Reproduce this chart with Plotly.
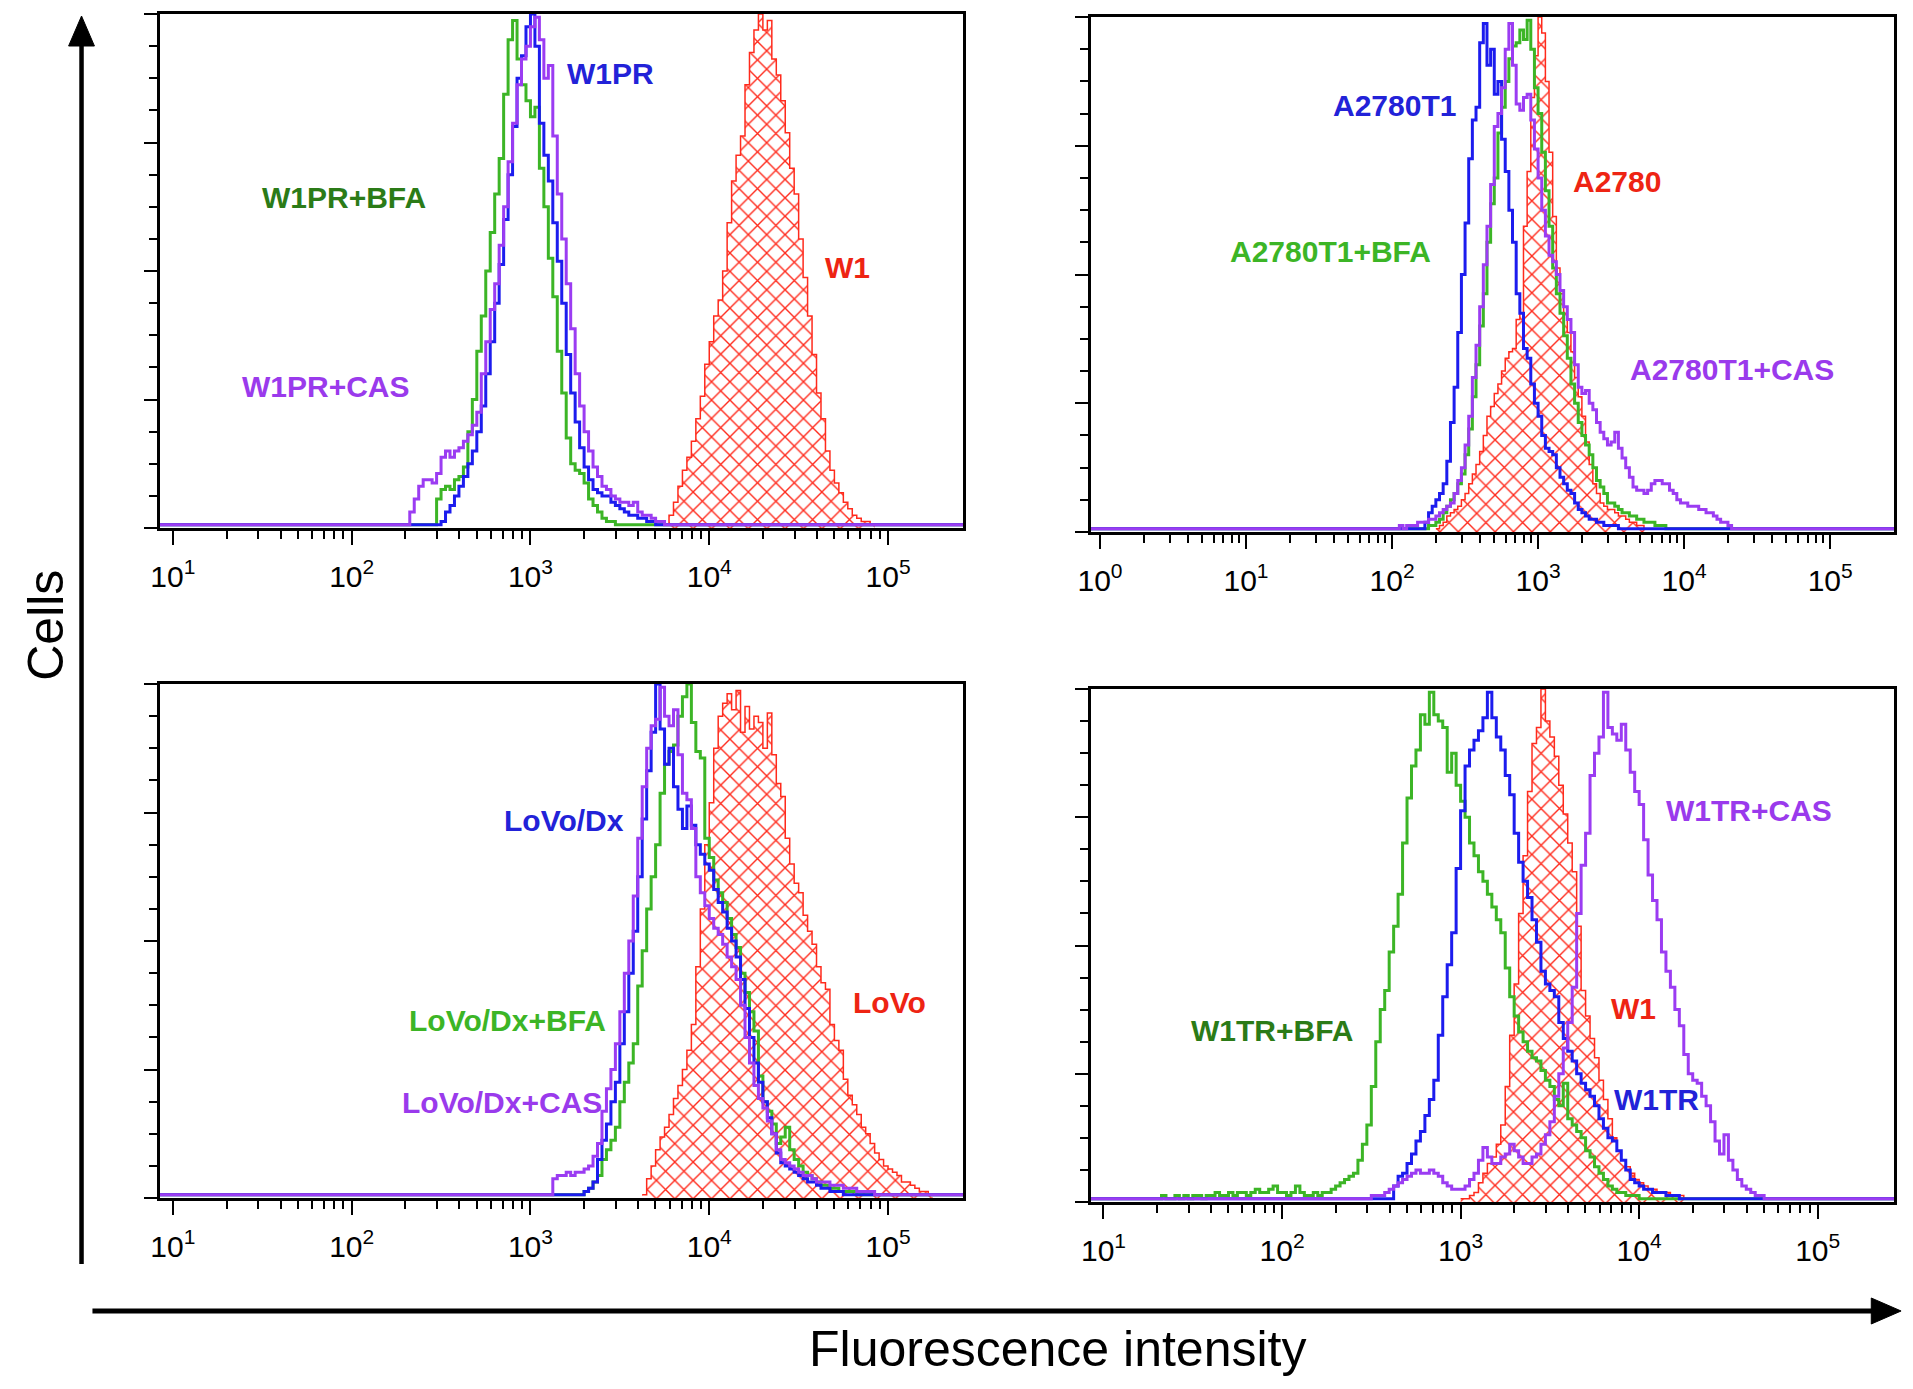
import plotly.graph_objects as go

W, H = 1913, 1389
STEP = 0.025   # width of one histogram channel, in decades
BASE = 1       # level drawn for empty channels

# ---------- top left: W1 / W1PR ----------
tl_red_start = 3.75
tl_red = [1, 4, 8, 13, 18, 22, 27, 34, 41, 51, 58, 66, 71, 80, 95, 108, 116, 122, 138, 148,
          155, 160, 155, 158, 146, 141, 133, 123, 112, 104, 90, 78, 66, 54, 42, 34, 24, 18, 14, 11,
          8, 6, 4, 3, 2, 2, 1]
tl_green_start = 2.45
tl_green = [1, 9, 12, 13, 12, 15, 16, 19, 30, 40, 55, 66, 80, 92, 104, 115, 135, 152, 158, 146,
            138, 133, 128, 131, 112, 100, 84, 72, 55, 42, 28, 20, 18, 17, 14, 9, 7, 5, 3, 2,
            2, 1, 1]
tl_blue_start = 2.50
tl_blue = [2, 5, 7, 10, 13, 16, 20, 24, 30, 38, 48, 58, 70, 82, 96, 110, 125, 140, 147, 156,
           160, 150, 126, 116, 108, 95, 83, 70, 54, 42, 33, 25, 19, 15, 12, 11, 10, 10, 8, 7,
           6, 5, 4, 4, 3, 3, 2, 2, 1]
tl_purple_start = 2.30
tl_purple = [1, 5, 9, 13, 15, 15, 14, 17, 22, 24, 22, 24, 25, 27, 29, 32, 36, 48, 58, 68,
             76, 88, 100, 114, 126, 138, 146, 150, 156, 159, 152, 140, 144, 122, 104, 90, 76, 62, 48, 38,
             30, 24, 19, 16, 13, 12, 10, 9, 8, 8, 7, 8, 5, 4, 4, 3, 2, 2, 1]

# ---------- top right: A2780 / A2780T1 ----------
tr_red_start = 2.30
tr_red = [1, 2, 3, 5, 6, 7, 8, 10, 12, 15, 18, 21, 25, 30, 36, 39, 43, 46, 50, 54,
          56, 57, 66, 68, 95, 112, 135, 148, 160, 155, 140, 118, 98, 82, 74, 68, 62, 56, 48, 42,
          36, 28, 21, 15, 12, 9, 8, 7, 7, 6, 5, 5, 4, 3, 3, 2, 2, 1]
tr_green_start = 2.20
tr_green = [1, 1, 2, 2, 3, 4, 6, 8, 10, 12, 15, 18, 24, 32, 42, 52, 64, 74, 90, 102,
            110, 124, 132, 140, 147, 151, 152, 156, 153, 159, 150, 138, 130, 118, 106, 95, 82, 74, 68, 61,
            54, 46, 40, 34, 30, 27, 24, 20, 16, 14, 12, 9, 9, 8, 7, 6, 6, 5, 5, 4,
            4, 3, 3, 3, 2, 2, 2, 1, 1, 1, 1]
tr_blue_start = 2.20
tr_blue = [1, 3, 6, 8, 10, 12, 15, 22, 34, 45, 62, 80, 96, 116, 128, 132, 152, 158, 145, 150,
           136, 140, 122, 112, 100, 90, 74, 68, 57, 54, 46, 40, 36, 30, 26, 25, 24, 20, 17, 15,
           13, 12, 9, 7, 6, 5, 4, 4, 3, 3, 2, 2, 2, 2, 1, 1, 1]
tr_purple_start = 2.00
tr_purple = [1, 1, 2, 1, 2, 2, 2, 3, 3, 3, 4, 4, 5, 6, 7, 8, 9, 12, 16, 20,
             27, 36, 48, 58, 70, 83, 95, 108, 126, 130, 138, 150, 158, 145, 133, 131, 135, 136, 128, 119,
             110, 100, 92, 86, 84, 80, 75, 70, 66, 62, 52, 45, 43, 44, 40, 38, 34, 31, 29, 27,
             28, 31, 26, 23, 20, 17, 14, 13, 13, 12, 13, 15, 16, 16, 15, 15, 13, 12, 10, 9,
             9, 8, 8, 8, 7, 7, 6, 6, 5, 4, 3, 3, 2, 1]

# ---------- bottom left: LoVo / LoVo/Dx ----------
bl_red_start = 3.625
bl_red = [1, 6, 10, 15, 19, 22, 26, 31, 35, 40, 46, 54, 72, 90, 110, 123, 140, 150, 154, 157,
          152, 158, 145, 153, 146, 150, 148, 140, 151, 138, 129, 125, 112, 104, 98, 95, 88, 83, 79, 72,
          67, 65, 54, 49, 46, 37, 32, 29, 26, 22, 20, 17, 14, 12, 10, 9, 8, 7, 5, 5,
          4, 3, 2, 2, 1]
bl_green_start = 3.275
bl_green = [1, 2, 3, 5, 7, 12, 15, 18, 22, 30, 36, 42, 48, 66, 77, 90, 100, 110, 126, 135,
            139, 141, 150, 156, 160, 148, 139, 137, 112, 106, 99, 95, 92, 87, 82, 78, 70, 64, 58, 52,
            38, 30, 27, 23, 17, 19, 22, 15, 12, 10, 8, 7, 6, 5, 4, 4, 3, 3, 2, 2,
            2, 2, 1, 1, 1, 1, 1]
bl_blue_start = 3.275
bl_blue = [1, 2, 3, 5, 12, 18, 23, 30, 36, 48, 58, 70, 83, 100, 118, 133, 145, 160, 146, 135,
           140, 128, 121, 115, 122, 116, 110, 107, 104, 102, 96, 92, 89, 84, 80, 75, 68, 59, 50, 42,
           36, 30, 25, 20, 14, 11, 10, 9, 8, 7, 6, 5, 5, 4, 3, 3, 2, 2, 2, 1,
           1, 1]
bl_purple_start = 3.10
bl_purple = [1, 6, 7, 7, 8, 7, 8, 8, 9, 10, 13, 17, 27, 34, 40, 48, 58, 70, 80, 94,
             112, 128, 140, 147, 149, 159, 150, 147, 152, 138, 126, 124, 115, 100, 95, 91, 87, 84, 82, 79,
             75, 72, 68, 60, 50, 42, 35, 31, 28, 24, 20, 15, 12, 11, 10, 9, 8, 7, 7, 6,
             5, 5, 5, 4, 4, 4, 3, 3, 3, 2, 2, 2, 2, 1, 1, 1, 1]

# ---------- bottom right: W1 / W1TR ----------
br_red_start = 3.00
br_red = [1, 1, 2, 3, 6, 9, 12, 14, 18, 24, 36, 52, 68, 90, 108, 128, 143, 148, 160, 150,
          145, 139, 130, 121, 112, 103, 86, 66, 58, 51, 45, 38, 32, 26, 20, 16, 13, 11, 9, 7,
          6, 5, 4, 4, 3, 3, 3, 2, 2, 2, 1]
br_green_start = 1.30
br_green = [1, 2, 1, 1, 2, 1, 2, 1, 2, 2, 1, 2, 2, 3, 2, 2, 3, 2, 3, 3,
            2, 3, 4, 3, 3, 4, 5, 3, 3, 2, 3, 5, 3, 2, 2, 3, 2, 3, 3, 4,
            5, 6, 7, 8, 9, 13, 18, 24, 36, 50, 60, 66, 78, 86, 96, 112, 126, 136, 141, 152,
            149, 159, 152, 150, 148, 134, 140, 130, 125, 120, 112, 108, 103, 100, 96, 92, 88, 84, 73, 64,
            58, 53, 50, 47, 45, 44, 41, 38, 36, 32, 30, 37, 26, 24, 22, 20, 16, 14, 11, 9,
            7, 5, 4, 3, 3, 2, 2, 2, 1, 1, 1]
br_blue_start = 2.60
br_blue = [1, 5, 8, 9, 12, 15, 19, 22, 27, 32, 38, 52, 64, 74, 84, 104, 122, 136, 141, 144,
           147, 151, 159, 151, 145, 141, 133, 127, 115, 106, 100, 95, 88, 81, 72, 68, 66, 64, 56, 51,
           47, 44, 40, 37, 35, 33, 30, 26, 23, 20, 19, 16, 13, 10, 7, 6, 5, 4, 4, 3,
           3, 3, 2, 2, 2, 1, 1]
br_purple_start = 2.425
br_purple = [1, 1, 1, 2, 2, 2, 3, 4, 5, 6, 7, 8, 9, 10, 9, 9, 10, 9, 8, 6,
             5, 4, 4, 4, 5, 7, 9, 13, 17, 14, 12, 12, 14, 15, 18, 16, 14, 12, 12, 14,
             15, 18, 21, 25, 33, 40, 48, 56, 67, 90, 105, 115, 133, 140, 145, 159, 148, 146, 144, 149,
             141, 134, 128, 124, 113, 102, 94, 88, 78, 72, 67, 60, 55, 46, 40, 38, 37, 33, 30, 25,
             19, 15, 21, 13, 10, 7, 5, 4, 3, 2, 2, 1]

# colours
RED = "#ff2a1c"
GREEN = "#3cb526"
BLUE = "#1c1cee"
PURPLE = "#9b3cf2"
DKGREEN = "#2b7b17"
LBLUE = "#2222d8"
LRED = "#ee2413"
LPURPLE = "#9a3aec"

TICKFONT = "Liberation Sans Narrow, Arial Narrow, Arial"


def px(x, y):
    return x / W, 1 - y / H


# panel boxes in pixels (left, right, top, bottom), axis range in decades
panels = [
    dict(box=(148, 957, 14, 528), xr=(0.928, 5.422), decades=[1, 2, 3, 4, 5],
         curves=[(tl_red_start, tl_red, RED), (tl_green_start, tl_green, GREEN),
                 (tl_blue_start, tl_blue, BLUE), (tl_purple_start, tl_purple, PURPLE)],
         labels=[("W1PR", 602, 73, LBLUE), ("W1PR+BFA", 333, 198, DKGREEN),
                 ("W1", 840, 267, LRED), ("W1PR+CAS", 315, 387, LPURPLE)]),
    dict(box=(1085, 1894, 17, 532), xr=(-0.064, 5.438), decades=[0, 1, 2, 3, 4, 5],
         curves=[(tr_red_start, tr_red, RED), (tr_green_start, tr_green, GREEN),
                 (tr_blue_start, tr_blue, BLUE), (tr_purple_start, tr_purple, PURPLE)],
         labels=[("A2780T1", 1391, 106, LBLUE), ("A2780", 1615, 181, LRED),
                 ("A2780T1+BFA", 1327, 251, GREEN), ("A2780T1+CAS", 1731, 370, LPURPLE)]),
    dict(box=(148, 957, 684, 1198), xr=(0.928, 5.422), decades=[1, 2, 3, 4, 5],
         curves=[(bl_red_start, bl_red, RED), (bl_green_start, bl_green, GREEN),
                 (bl_blue_start, bl_blue, BLUE), (bl_purple_start, bl_purple, PURPLE)],
         labels=[("LoVo/Dx", 555, 820, LBLUE), ("LoVo", 883, 1002, LRED),
                 ("LoVo/Dx+BFA", 498, 1020, GREEN), ("LoVo/Dx+CAS", 492, 1102, LPURPLE)]),
    dict(box=(1085, 1894, 689, 1202), xr=(0.928, 5.428), decades=[1, 2, 3, 4, 5],
         curves=[(br_red_start, br_red, RED), (br_green_start, br_green, GREEN),
                 (br_blue_start, br_blue, BLUE), (br_purple_start, br_purple, PURPLE)],
         labels=[("W1TR+CAS", 1748, 811, LPURPLE), ("W1TR+BFA", 1268, 1030, DKGREEN),
                 ("W1", 1632, 1008, LRED), ("W1TR", 1655, 1099, LBLUE)]),
]

fig = go.Figure()
annotations = []

for n, p in enumerate(panels, start=1):
    sfx = "" if n == 1 else str(n)
    left, right, top, bottom = p["box"]
    lo, hi = p["xr"]

    for start, counts, color in p["curves"]:
        xs = [10 ** (start + i * STEP) for i in range(len(counts) + 1)]
        ys = list(counts) + [counts[-1]]
        if color == RED:
            fig.add_trace(go.Scatter(
                x=xs, y=ys, mode="lines", line=dict(color=color, width=1.5, shape="hv"),
                fill="tozeroy",
                fillpattern=dict(shape="x", fgcolor=color, bgcolor="white", size=13,
                                 solidity=0.2, fillmode="replace"),
                xaxis="x" + sfx, yaxis="y" + sfx, showlegend=False, hoverinfo="skip"))
        else:
            xs = [10 ** lo] + xs + [10 ** hi]
            ys = [BASE] + ys + [BASE]
            fig.add_trace(go.Scatter(
                x=xs, y=ys, mode="lines", line=dict(color=color, width=3, shape="hv"),
                xaxis="x" + sfx, yaxis="y" + sfx, showlegend=False, hoverinfo="skip"))

    dec = p["decades"]
    fig.update_layout(**{
        "xaxis" + sfx: dict(
            type="log", domain=[left / W, right / W], range=[lo, hi], anchor="y" + sfx,
            showgrid=False, zeroline=False, showline=True, linecolor="black", linewidth=2.5,
            mirror=True, ticks="outside", ticklen=14, tickwidth=2, tickcolor="black",
            tickvals=[10 ** d for d in dec], ticktext=["10<sup>%d</sup>" % d for d in dec],
            tickfont=dict(family=TICKFONT, size=30, color="black"), ticklabelstandoff=6,
            minor=dict(tickvals=[m * 10 ** d for d in dec[:-1] for m in range(2, 10)],
                       ticks="outside", ticklen=8, tickwidth=2, tickcolor="black"),
            fixedrange=True),
        "yaxis" + sfx: dict(
            domain=[1 - bottom / H, 1 - top / H], range=[0, 160], anchor="x" + sfx,
            showgrid=False, zeroline=False, showline=True, linecolor="black", linewidth=2.5,
            mirror=True, ticks="outside", ticklen=13, tickwidth=2, tickcolor="black",
            tickvals=[0, 40, 80, 120, 160], showticklabels=False,
            minor=dict(tickvals=[v for v in range(10, 160, 10) if v % 40],
                       ticks="outside", ticklen=8, tickwidth=2, tickcolor="black"),
            fixedrange=True),
    })

    for text, lx, ly, color in p["labels"]:
        ax_, ay_ = px(lx, ly)
        annotations.append(dict(
            text=text, x=ax_, y=ay_, xref="paper", yref="paper", showarrow=False,
            xanchor="center", yanchor="middle",
            font=dict(family="Arial", size=30, color=color, weight="bold")))

# axis titles
cx, cy = px(33, 625)
annotations.append(dict(text="Cells", x=cx, y=cy, xref="paper", yref="paper",
                        showarrow=False, textangle=-90, xanchor="center", yanchor="middle",
                        font=dict(family="Arial", size=50, color="black")))
fx, fy = px(1052, 1349)
annotations.append(dict(text="Fluorescence intensity", x=fx, y=fy, xref="paper", yref="paper",
                        showarrow=False, xanchor="center", yanchor="middle",
                        font=dict(family="Arial", size=50, color="black")))


def path(points):
    s = ""
    for i, (x, y) in enumerate(points):
        a, b = px(x, y)
        s += ("M" if i == 0 else " L") + " %.5f %.5f" % (a, b)
    return s + " Z"


shapes = []
# vertical arrow (Cells)
x0, y0 = px(69, 1264)
x1, y1 = px(69, 42)
shapes.append(dict(type="line", xref="paper", yref="paper", x0=x0, y0=y0, x1=x1, y1=y1,
                   line=dict(color="black", width=4.5)))
shapes.append(dict(type="path", xref="paper", yref="paper",
                   path=path([(56, 46), (69, 16), (82, 46)]),
                   fillcolor="black", line=dict(color="black", width=1)))
# horizontal arrow (Fluorescence intensity)
x0, y0 = px(80, 1311)
x1, y1 = px(1876, 1311)
shapes.append(dict(type="line", xref="paper", yref="paper", x0=x0, y0=y0, x1=x1, y1=y1,
                   line=dict(color="black", width=5)))
shapes.append(dict(type="path", xref="paper", yref="paper",
                   path=path([(1871, 1298), (1901, 1311), (1871, 1324)]),
                   fillcolor="black", line=dict(color="black", width=1)))

fig.update_layout(
    width=W, height=H,
    margin=dict(l=0, r=0, t=0, b=0),
    paper_bgcolor="white", plot_bgcolor="white",
    annotations=annotations, shapes=shapes,
    showlegend=False,
)

fig.write_html("out.html", config={"displayModeBar": False},
               post_script="document.body.style.margin='0';")
